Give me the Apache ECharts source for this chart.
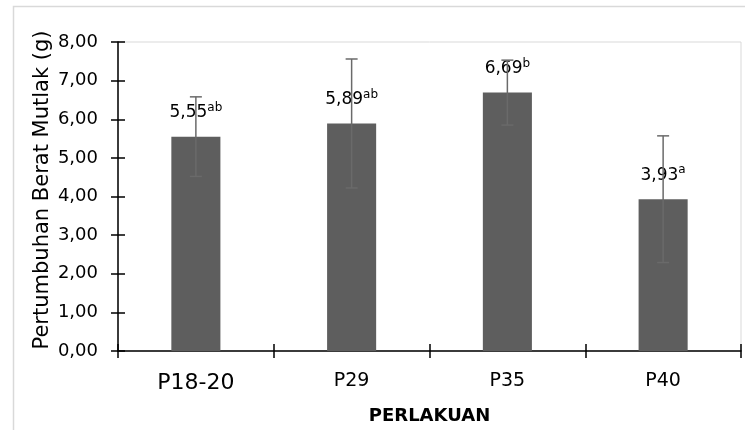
<!DOCTYPE html>
<html>
<head>
<meta charset="utf-8">
<script src="https://cdn.jsdelivr.net/npm/echarts@6/dist/echarts.min.js"></script>
<style>
  html, body { margin: 0; padding: 0; background: #fff; }
  #chart { width: 745px; height: 430px; }
</style>
</head>
<body>
<div id="chart"></div>
<script>
// Treatment groups and mean absolute weight gain (g)
const categories = ['P18-20', 'P29', 'P35', 'P40'];
const means = [5.55, 5.89, 6.69, 3.93];
// Standard deviation shown as error bars
const deviations = [1.03, 1.67, 0.84, 1.64];
// Significance letters (Duncan)
const letters = ['ab', 'ab', 'b', 'a'];
const yTicks = [0, 1, 2, 3, 4, 5, 6, 7, 8];

const FONT = 'DejaVu Sans';
const fmt = v => v.toFixed(2).replace('.', ',');

const chart = echarts.init(document.getElementById('chart'), null, { renderer: 'canvas' });

const gridBox = { left: 118, right: 4, top: 42, bottom: 77 };

const yBase = {
  type: 'value', min: yTicks[0], max: yTicks[yTicks.length - 1], interval: 1,
  splitLine: { show: false },
  axisLine: { show: true, lineStyle: { color: '#000', width: 1.5 } }
};

const option = {
  animation: false,
  backgroundColor: '#fff',
  grid: Object.assign({ show: true, borderColor: '#d9d9d9', borderWidth: 1 }, gridBox),
  graphic: [{
    type: 'rect', silent: true, z: -1,
    shape: { x: 13.5, y: 6.5, width: 800, height: 500 },
    style: { fill: 'none', stroke: '#d9d9d9', lineWidth: 1.5 }
  }, {
    type: 'text', silent: true,
    x: 43, y: 190, rotation: Math.PI / 2,
    style: {
      text: 'Pertumbuhan Berat Mutlak (g)', fontFamily: FONT, fontSize: 21,
      fill: '#000', align: 'center', verticalAlign: 'middle'
    }
  }],
  xAxis: [{
    type: 'category', data: categories, boundaryGap: true,
    axisLine: { show: true, lineStyle: { color: '#000', width: 1.5 } },
    axisTick: { show: true, interval: 0, length: 7, alignWithLabel: false, lineStyle: { color: '#000', width: 1.5 } },
    axisLabel: {
      interval: 0, hideOverlap: false,
      margin: 21, color: '#000', fontFamily: FONT, fontSize: 19,
      formatter: (v, i) => i === 0 ? '{big|' + v + '}' : v,
      rich: { big: { fontFamily: FONT, fontSize: 22, color: '#000' } }
    },
    name: 'PERLAKUAN', nameLocation: 'middle', nameGap: 56,
    nameTextStyle: { fontFamily: FONT, fontWeight: 'bold', fontSize: 18, color: '#000' }
  }, {
    type: 'category', data: categories, boundaryGap: true, position: 'bottom',
    axisLine: { show: false },
    axisTick: { show: true, interval: 0, inside: true, length: 7, lineStyle: { color: '#000', width: 1.5 } },
    axisLabel: { show: false }
  }],
  yAxis: [Object.assign({}, yBase, {
    axisTick: { show: true, length: 7, lineStyle: { color: '#000', width: 1.5 } },
    axisLabel: { margin: 20, color: '#000', fontFamily: FONT, fontSize: 18, formatter: v => fmt(v) }
  }), Object.assign({}, yBase, {
    position: 'left',
    axisLine: { show: false },
    axisTick: { show: true, inside: true, length: 7, lineStyle: { color: '#000', width: 1.5 } },
    axisLabel: { show: false }
  })],
  series: [{
    type: 'bar', data: means, barWidth: '31.5%',
    itemStyle: { color: '#5e5e5e' },
    label: {
      show: true, position: 'top', distance: 13,
      formatter: p => '{v|' + fmt(p.value) + '}{s|' + letters[p.dataIndex] + '}',
      rich: {
        v: { fontFamily: FONT, fontSize: 17, color: '#000', lineHeight: 22 },
        s: { fontFamily: FONT, fontSize: 12, color: '#000', lineHeight: 22, verticalAlign: 'top', padding: [0, 0, 6, 0] }
      }
    },
    z: 2
  }, {
    type: 'custom',
    data: means.map((m, i) => [i, m - deviations[i], m + deviations[i]]),
    renderItem: (params, api) => {
      const i = api.value(0);
      const lo = api.coord([i, api.value(1)]);
      const hi = api.coord([i, api.value(2)]);
      const half = 6;
      const style = { stroke: '#6a6a6a', lineWidth: 1.5 };
      return {
        type: 'group',
        children: [
          { type: 'line', shape: { x1: hi[0], y1: hi[1], x2: lo[0], y2: lo[1] }, style },
          { type: 'line', shape: { x1: hi[0] - half, y1: hi[1], x2: hi[0] + half, y2: hi[1] }, style },
          { type: 'line', shape: { x1: lo[0] - half, y1: lo[1], x2: lo[0] + half, y2: lo[1] }, style }
        ]
      };
    },
    z: 3
  }]
};

chart.setOption(option);
</script>
</body>
</html>
